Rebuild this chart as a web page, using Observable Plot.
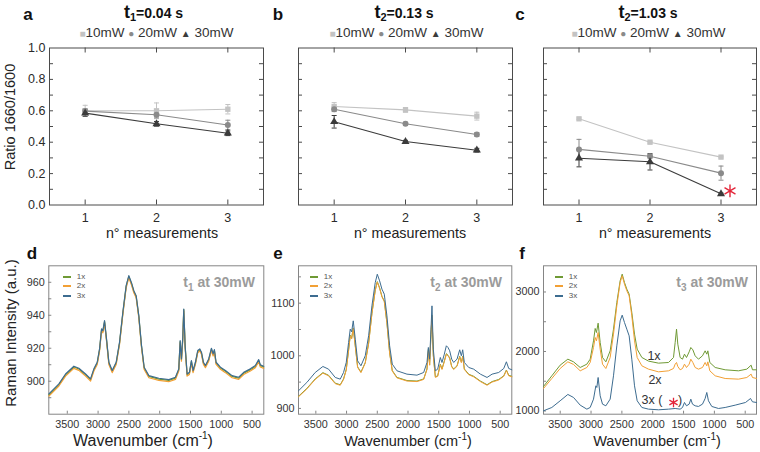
<!DOCTYPE html>
<html><head><meta charset="utf-8">
<script src="https://cdn.jsdelivr.net/npm/d3@7"></script>
<script src="https://cdn.jsdelivr.net/npm/@observablehq/plot@0.6"></script>
<style>
body{margin:0;background:#fff;font-family:"Liberation Sans",Arial,sans-serif;color:#2a2a2a;}
#root{position:relative;width:760px;height:452px;overflow:hidden;background:#fff;}
.abs{position:absolute;white-space:nowrap;transform:translate(-50%,-50%);line-height:1;}
.plotbox{position:absolute;}
</style></head><body><div id="root"></div><script>
// ---------- top row: ratio 1660/1600 vs number of measurements ----------
const xMeas = [1, 2, 3];
const powers = ["10mW", "20mW", "30mW"];
const ratioTicks = [0, 0.2, 0.4, 0.6, 0.8, 1.0];
const ratioMinor = [0.1, 0.2, 0.3, 0.4, 0.5, 0.6, 0.7, 0.8, 0.9];
// panel a (t1 = 0.04 s)
const a10 = [0.600, 0.600, 0.610], a10e = [0.035, 0.050, 0.030];
const a20 = [0.598, 0.575, 0.510], a20e = [0.015, 0.020, 0.030];
const a30 = [0.585, 0.517, 0.457], a30e = [0.020, 0.015, 0.015];
// panel b (t2 = 0.13 s)
const b10 = [0.627, 0.606, 0.566], b10e = [0.025, 0.015, 0.025];
const b20 = [0.610, 0.517, 0.449], b20e = [0.015, 0.010, 0.012];
const b30 = [0.530, 0.404, 0.349], b30e = [0.040, 0.008, 0.012];
// panel c (t2 = 1.03 s)
const c10 = [0.549, 0.400, 0.305], c10e = [0.005, 0.005, 0.005];
const c20 = [0.354, 0.311, 0.203], c20e = [0.064, 0.012, 0.045];
const c30 = [0.298, 0.275, 0.071], c30e = [0.055, 0.052, 0.005];

// ---------- bottom row: Raman spectra ----------
const wnTicks = [3500, 3000, 2500, 2000, 1500, 1000, 500];
const seriesNames = ["1x", "2x", "3x"];
const seriesColors = {"1x": "#6f9a35", "2x": "#f2a035", "3x": "#3d6c90"};
// panel d
const dWn = [3798,3636,3528,3393,3312,3203,3122,3068,3014,2976,2944,2922,2895,2863,2825,2771,2706,2652,2598,2544,2501,2457,2420,2382,2339,2295,2252,2176,2014,1852,1744,1690,1668,1647,1625,1609,1587,1555,1517,1485,1458,1420,1382,1349,1322,1290,1258,1204,1160,1133,1112,1085,1014,933,825,717,636,528,447,393,366,312];
const d1x = [891.8,897.9,903.9,908.6,907.4,903.9,900.9,907.0,911.0,919.1,931.2,930.2,936.2,925.1,911.0,906.0,911.0,923.1,941.3,957.5,963.6,959.1,954.4,951.4,939.3,921.1,908.0,902.9,901.3,900.5,901.9,907.0,924.1,913.0,926.1,943.4,921.1,903.9,904.9,912.0,906.0,911.0,918.1,919.1,917.1,911.0,909.0,913.0,919.5,916.1,918.7,911.0,908.0,906.0,902.9,901.9,904.9,907.0,909.0,912.6,909.4,908.6];
const d2x = [891.0,897.1,903.1,907.8,906.6,903.1,900.1,906.2,910.2,918.3,930.4,929.4,935.4,924.3,910.2,905.2,910.2,922.3,940.5,956.7,962.8,958.3,953.6,950.6,938.5,920.3,907.2,902.1,900.5,899.7,901.1,906.2,923.3,912.2,925.3,942.6,920.3,903.1,904.1,911.2,905.2,910.2,917.3,918.3,916.3,910.2,908.2,912.2,918.7,915.3,917.9,910.2,907.2,905.2,902.1,901.1,904.1,906.2,908.2,911.8,908.6,907.8];
const d3x = [892.3,898.4,904.4,909.1,907.9,904.4,901.4,907.5,911.5,919.6,931.7,930.7,936.7,925.6,911.5,906.5,911.5,923.6,941.8,958.0,964.0,959.6,954.9,951.9,939.8,921.6,908.5,903.4,901.8,901.0,902.4,907.5,924.6,913.5,926.6,943.8,921.6,904.4,905.4,912.5,906.5,911.5,918.6,919.6,917.6,911.5,909.5,913.5,920.0,916.6,919.2,911.5,908.5,906.5,903.4,902.4,905.4,907.5,909.5,913.1,909.9,909.1];
const dYMinor = [890, 900, 910, 920, 930, 940, 950, 960];
const dYLabels = [900, 920, 940, 960];
// panel e
const eWn = [3782,3646,3510,3385,3293,3184,3103,3049,3005,2967,2940,2918,2891,2858,2820,2766,2696,2641,2587,2533,2500,2462,2424,2386,2343,2299,2256,2180,2017,1854,1745,1691,1669,1648,1626,1610,1588,1555,1517,1474,1447,1409,1376,1349,1322,1289,1257,1202,1159,1132,1110,1083,1012,931,822,714,632,524,442,399,361,311];
const e1x = [923,938,956,968,963,948,945,956,974,1011,1039,1033,1053,1019,979,969,987,1024,1081,1125,1141,1129,1113,1104,1063,1006,972,959,953,952,956,975,1012,983,1041,1077,1001,960,962,984,975,990,1004,1001,996,980,975,981,999,988,999,975,965,961,952,945,951,955,962,973,963,961];
const e2x = [922,937,955,967,962,947,944,955,973,1010,1038,1032,1052,1018,978,968,986,1023,1080,1124,1140,1128,1112,1103,1062,1005,971,958,952,951,955,974,1009,982,1040,1076,1000,959,961,983,974,989,1003,1000,995,979,974,980,998,987,998,974,964,960,951,944,950,954,961,972,962,960];
const e3x = [933.5,949.3,968.3,979.7,974.6,958.8,955.6,968.3,987.3,1025.3,1050.6,1045.5,1066.4,1031.6,990.5,981,1000,1038,1094.9,1139.2,1155,1142.4,1126.6,1117.1,1075.9,1019,984.1,971.5,965.1,963.2,968.3,987.3,1015.8,993.6,1050.6,1094.9,1012.6,971.5,974.6,996.8,987.3,1003.1,1019,1015.8,1009.5,993.6,987.3,993.6,1011.4,1000,1011.4,987.3,977.8,974.6,965.1,958.8,965.1,968.3,975.9,988.6,975.9,973.4];
const eYMinor = [900, 950, 1000, 1050, 1100, 1150];
const eYLabels = [900, 1000, 1100];
// panel f
const fWn = [3771,3636,3501,3376,3284,3176,3068,3014,2960,2933,2912,2885,2852,2814,2760,2690,2636,2582,2528,2495,2458,2420,2382,2339,2295,2252,2176,2068,1906,1744,1663,1636,1614,1593,1555,1517,1485,1452,1409,1382,1349,1312,1258,1193,1150,1123,1106,1074,987,825,609,474,404,382,317];
const f1x = [1412,1591,1770,1871,1826,1731,1787,1871,2179,2387,2319,2476,2151,1899,1826,2011,2375,2824,3188,3300,3160,3048,2964,2656,2291,2039,1899,1838,1804,1815,1899,2151,2375,2123,1899,1871,1955,1899,1994,2067,2028,1927,1871,1927,2011,1955,2011,1815,1731,1692,1675,1703,1770,1692,1692];
const f2x = [1378,1546,1714,1826,1782,1675,1731,1815,2067,2235,2179,2319,2039,1787,1714,1899,2291,2767,3160,3272,3132,3020,2936,2600,2179,1899,1759,1703,1658,1675,1714,1787,1815,1748,1692,1714,1787,1731,1787,1871,1815,1731,1703,1731,1815,1759,1826,1675,1591,1546,1535,1563,1619,1563,1546];
const f3Wn = [3771,3636,3501,3376,3284,3176,3068,3014,2960,2922,2906,2885,2852,2814,2760,2690,2636,2582,2528,2495,2458,2420,2382,2339,2295,2252,2176,2068,1906,1744,1636,1555,1517,1485,1452,1409,1382,1355,1312,1258,1193,1150,1123,1096,1042,933,825,663,495,414,382,317];
const f3x = [1003,1059,1171,1278,1227,1098,1031,1059,1199,1423,1395,1563,1255,1115,1087,1199,1591,2095,2515,2611,2487,2375,2263,1871,1423,1171,1059,1031,1020,1031,1042,1031,1059,1143,1087,1115,1199,1115,1087,1076,1115,1210,1311,1171,1076,1042,1059,1098,1143,1210,1154,1143];
const fYMinor = [1000, 1500, 2000, 2500, 3000];
const fYLabels = [1000, 2000, 3000];

const root = document.getElementById("root");
const FONT = "'Liberation Sans', Arial, sans-serif";

function put(node, left, top) {
  const box = document.createElement("div");
  box.className = "plotbox";
  box.style.left = left + "px";
  box.style.top = top + "px";
  box.appendChild(node);
  root.appendChild(box);
}
function label(html, x, y, style = "") {
  const el = document.createElement("div");
  el.className = "abs";
  el.style.cssText = `left:${x}px;top:${y}px;` + style;
  el.innerHTML = html;
  root.appendChild(el);
  return el;
}

const grays = ["#c3c3c3", "#8a8a8a", "#3b3b3b"];

function topPanel({left, width, ml, mr, vals, errs, yAxis, star}) {
  const H = 185, mt = 7.5, fh = 157, mb = H - mt - fh, fw = width - ml - mr;
  const rows = [];
  powers.forEach((p, i) => xMeas.forEach((x, j) => rows.push({p, x, y: vals[i][j], e: errs[i][j]})));
  const ax = "#4a4a4a";
  const marks = [
    Plot.frame({stroke: ax}),
    Plot.tickY(ratioMinor, {y: d => d, insetRight: fw - 4, stroke: ax}),
    Plot.tickY(ratioMinor, {y: d => d, insetLeft: fw - 4, stroke: ax}),
    Plot.tickX(xMeas, {x: d => d, insetBottom: fh - 5, stroke: ax}),
    Plot.tickX(xMeas, {x: d => d, insetTop: fh - 5, stroke: ax}),
    Plot.axisX(xMeas, {tickSize: 0, tickPadding: 8, fontSize: 12.5, label: null}),
    Plot.ruleX(rows, {x: "x", y1: d => d.y - d.e, y2: d => d.y + d.e, stroke: "p"}),
    Plot.link(rows, {x1: d => d.x - 0.035, x2: d => d.x + 0.035, y1: d => d.y - d.e, y2: d => d.y - d.e, stroke: "p"}),
    Plot.link(rows, {x1: d => d.x - 0.035, x2: d => d.x + 0.035, y1: d => d.y + d.e, y2: d => d.y + d.e, stroke: "p"}),
    Plot.line(rows, {x: "x", y: "y", z: "p", stroke: "p", strokeWidth: 1.1}),
    Plot.dot(rows, {x: "x", y: "y", symbol: "p", fill: "p", r: 3})
  ];
  if (yAxis) marks.push(Plot.axisY(ratioTicks, {tickSize: 0, tickPadding: 4, fontSize: 12.5, tickFormat: d3.format(".1f"), label: null}));
  if (star) marks.push(Plot.dot([{x: 3, y: vals[2][2]}], {x: "x", y: "y", symbol: "asterisk", stroke: "#e3263a", strokeWidth: 1.4, r: 6, dx: 9, dy: -3}));
  const svg = Plot.plot({
    width, height: H, marginLeft: ml, marginRight: mr, marginTop: mt, marginBottom: mb,
    x: {domain: [0.5, 3.5], axis: null},
    y: {domain: [0, 1], axis: null},
    color: {domain: powers, range: grays},
    symbol: {domain: powers, range: ["square", "circle", "triangle"]},
    style: {background: "transparent", fontFamily: FONT, fontSize: "12.5px", color: "#2a2a2a", overflow: "visible"},
    marks
  });
  put(svg, left, 40);
}

function bottomPanel({left, width, ml, mr, xDom, yDom, yMinor, yLabels, curves, star, sw}) {
  const H = 185, mt = 10.3, fh = 148.4, mb = H - mt - fh, fw = width - ml - mr;
  const ax = "#858585";
  const marks = [
    Plot.frame({stroke: ax}),
    Plot.tickY(yMinor, {y: d => d, insetRight: fw - 3, stroke: ax}),
    Plot.tickX(wnTicks, {x: d => d, insetTop: fh - 3, stroke: ax}),
    Plot.axisX(wnTicks, {tickSize: 0, tickPadding: 6.5, fontSize: 10.8, tickFormat: d3.format("d"), label: null}),
    Plot.axisY(yLabels, {tickSize: 0, tickPadding: 4, fontSize: 10.8, tickFormat: d3.format("d"), label: null})
  ];
  curves.forEach(c => {
    const pts = c.wn.map((w, i) => ({w, v: c.v[i]}));
    marks.push(Plot.line(pts, {x: "w", y: "v", stroke: seriesColors[c.name], strokeWidth: sw}));
  });
  if (star) marks.push(Plot.dot([0], {frameAnchor: "top-left", dx: star[0], dy: star[1], symbol: "asterisk", stroke: "#e3263a", strokeWidth: 1.3, r: 4.5}));
  const svg = Plot.plot({
    width, height: H, marginLeft: ml, marginRight: mr, marginTop: mt, marginBottom: mb,
    x: {domain: xDom, axis: null},
    y: {domain: yDom, axis: null},
    style: {background: "transparent", fontFamily: FONT, fontSize: "10.8px", color: "#333", overflow: "visible"},
    marks
  });
  put(svg, left, 255);
}

topPanel({left: 0, width: 268, ml: 49, mr: 5, vals: [a10, a20, a30], errs: [a10e, a20e, a30e], yAxis: true});
topPanel({left: 268, width: 248, ml: 30, mr: 4, vals: [b10, b20, b30], errs: [b10e, b20e, b30e]});
topPanel({left: 516, width: 244, ml: 27, mr: 4, vals: [c10, c20, c30], errs: [c10e, c20e, c30e], star: true});

bottomPanel({left: 0, width: 268, ml: 48.3, mr: 4.7, xDom: [3800, 310], yDom: [880, 970], yMinor: dYMinor, yLabels: dYLabels, sw: 1.2,
  curves: [{name: "1x", wn: dWn, v: d1x}, {name: "2x", wn: dWn, v: d2x}, {name: "3x", wn: dWn, v: d3x}]});
bottomPanel({left: 268, width: 248, ml: 30, mr: 4.7, xDom: [3782, 311], yDom: [889, 1171], yMinor: eYMinor, yLabels: eYLabels, sw: 1,
  curves: [{name: "1x", wn: eWn, v: e1x}, {name: "2x", wn: eWn, v: e2x}, {name: "3x", wn: eWn, v: e3x}]});
bottomPanel({left: 516, width: 244, ml: 27, mr: 4, xDom: [3771, 317], yDom: [946, 3440], yMinor: fYMinor, yLabels: fYLabels, sw: 1,
  curves: [{name: "1x", wn: fWn, v: f1x}, {name: "2x", wn: fWn, v: f2x}, {name: "3x", wn: f3Wn, v: f3x}], star: [130, 136.7]});

// ---------- text ----------
const letterStyle = "font-weight:bold;font-size:17px;color:#111;";
[["a", 28, 14], ["b", 278, 14], ["c", 520, 14], ["d", 32, 253], ["e", 278, 253], ["f", 522, 253]]
  .forEach(([t, x, y]) => label(t, x, y, letterStyle));

const titleStyle = "font-weight:bold;font-size:14px;color:#111;";
label('<span style="font-size:18px">t</span><sub style="font-size:11px">1</sub>=0.04 s', 153.5, 13, titleStyle);
label('<span style="font-size:18px">t</span><sub style="font-size:11px">2</sub>=0.13 s', 404, 13, titleStyle);
label('<span style="font-size:18px">t</span><sub style="font-size:11px">2</sub>=1.03 s', 648, 13, titleStyle);

const legHtml = `<span style="color:${grays[0]};font-size:10px">■</span>10mW <span style="color:${grays[1]};font-size:10px">●</span> 20mW <span style="color:${grays[2]};font-size:10px">▲</span> 30mW`;
[156.5, 406.5, 648.5].forEach(x => label(legHtml, x, 33, "font-size:13.5px;color:#333;"));

[162, 410, 655].forEach(x => label("n° measurements", x, 233, "font-size:14.3px;color:#222;"));
label("Ratio 1660/1600", 10, 117, "font-size:14.5px;color:#222;transform:translate(-50%,-50%) rotate(-90deg);");
label("Raman Intensity (a.u.)", 10, 333, "font-size:15px;color:#222;transform:translate(-50%,-50%) rotate(-90deg);");
[[143, 440, 16], [408, 440, 14.5], [657, 440, 14.5]].forEach(([x, y, fs]) => label('Wavenumber (cm<sup style="font-size:10px">-1</sup>)', x, y, `font-size:${fs}px;color:#222;`));

// spectra legends and annotations
const legX = [63, 310, 555];
legX.forEach(x0 => {
  seriesNames.forEach((s, i) => {
    const y = [277, 286.3, 296.3][i];
    const ln = document.createElement("div");
    ln.style.cssText = `position:absolute;left:${x0}px;top:${y - 1}px;width:8px;height:0;border-top:2px solid ${seriesColors[s]};`;
    root.appendChild(ln);
    label(s, x0 + 18, y, "font-size:8px;color:#555;");
  });
});
const tStyle = "font-weight:bold;font-size:14px;color:#9b9b9b;transform:translate(-100%,-50%);";
label('t<sub style="font-size:10px">1</sub> at 30mW', 255, 284, tStyle);
label('t<sub style="font-size:10px">2</sub> at 30mW', 502, 284, tStyle);
label('t<sub style="font-size:10px">3</sub> at 30mW', 748, 284, tStyle);
label("1x", 654, 356, "font-size:12.5px;color:#333;");
label("2x", 655, 380, "font-size:12.5px;color:#333;");
label("3x (", 652, 400, "font-size:12.5px;color:#333;");
label(")", 680, 400, "font-size:12.5px;color:#333;");
</script></body></html>
